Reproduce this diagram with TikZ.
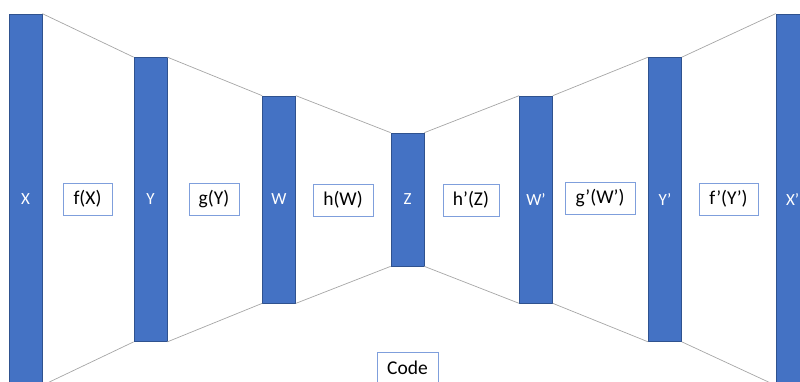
\documentclass[tikz,border=0pt]{standalone}
\usepackage{fontspec}
\setmainfont{Carlito}
\definecolor{barfill}{HTML}{4472C4}
\definecolor{baredge}{HTML}{2F528F}
\definecolor{boxedge}{HTML}{7F9FDC}
\definecolor{linkgray}{HTML}{A6A6A6}
\begin{document}
\begin{tikzpicture}[x=1pt,y=-1pt,
  layer/.style={draw=baredge,fill=barfill,line width=0.7pt,minimum width=33pt,
    inner sep=0pt,text=white,font=\fontsize{17}{17}\selectfont},
  fnbox/.style={draw=boxedge,fill=white,line width=0.9pt,minimum height=32pt,
    inner sep=0pt,text=black,font=\fontsize{19.5}{19.5}\selectfont},
  link/.style={draw=linkgray,line width=0.7pt}]
\useasboundingbox (0,0) rectangle (800,381);
\clip (0,0) rectangle (800,381);
% encoder / decoder layers
\node[layer,minimum height=371pt] (X)  at (25.5,199.5) {X};
\node[layer,minimum height=284pt] (Y)  at (150.5,199.5) {Y};
\node[layer,minimum height=207pt] (W)  at (279,199.5) {W};
\node[layer,minimum height=133pt] (Z)  at (407.5,199.5) {Z};
\node[layer,minimum height=207pt] (W2) at (536,199.5) {W’};
\node[layer,minimum height=284pt] (Y2) at (665,199.5) {Y’};
\node[layer,minimum height=371pt] (X2) at (792.5,199.5) {X’};
% links between consecutive layers
\foreach \a/\b in {X/Y,Y/W,W/Z,Z/W2,W2/Y2,Y2/X2}{
  \draw[link] (\a.north east) -- (\b.north west);
  \draw[link] (\a.south east) -- (\b.south west);
}
% mapping labels
\node[fnbox,minimum width=49pt] (f)  at (87.5,199) {f(X)};
\node[fnbox,minimum width=50pt] (g)  at (214,199) {g(Y)};
\node[fnbox,minimum width=60pt] (h)  at (343,200) {h(W)};
\node[fnbox,minimum width=56pt] (h2) at (471,200) {h’(Z)};
\node[fnbox,minimum width=70pt] (g2) at (600,198) {g’(W’)};
\node[fnbox,minimum width=59pt] (f2) at (728.5,199) {f’(Y’)};
\node[fnbox,minimum width=61pt] (code) at (407.5,368) {Code};
\end{tikzpicture}
\end{document}
